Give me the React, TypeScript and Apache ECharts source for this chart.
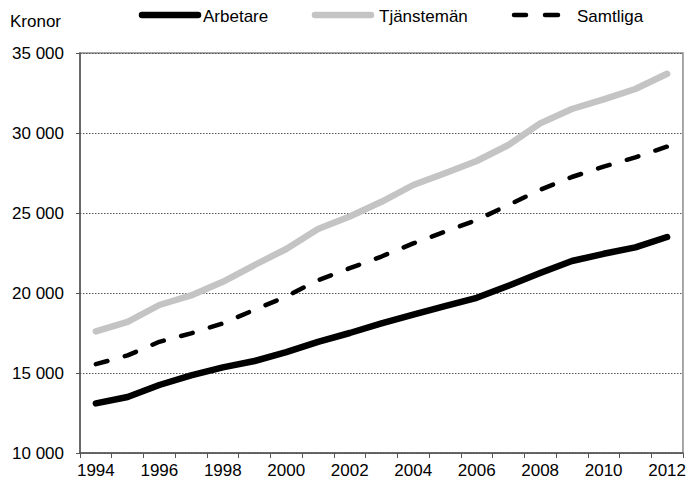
import React, { useEffect, useRef } from "react";
import * as echarts from "echarts";

const years = ["1994","1995","1996","1997","1998","1999","2000","2001","2002","2003","2004","2005","2006","2007","2008","2009","2010","2011","2012"];
const arbetare = [13100,13500,14250,14850,15350,15750,16300,16950,17500,18100,18650,19180,19700,20450,21250,22000,22450,22850,23500];
const tjansteman = [17600,18200,19250,19850,20700,21750,22750,24000,24780,25700,26750,27480,28250,29250,30600,31500,32100,32750,33700];
const samtliga = [15550,16100,16950,17480,18100,18950,19780,20800,21550,22280,23100,23830,24560,25500,26450,27250,27900,28480,29150];
const seriesNames = ["Arbetare", "Tjänstemän", "Samtliga"];
const yTitle = "Kronor";

const FONT = "Liberation Sans, Arial, sans-serif";
const FS = 17;

export default function App() {
  const ref = useRef<HTMLDivElement>(null);
  useEffect(() => {
    if (!ref.current) return;
    const chart = echarts.init(ref.current, undefined, { renderer: "svg" });
    const txt = (x: number, y: number, text: string) => ({
      type: "text", x, y,
      style: { text, fontSize: FS, fill: "#000", fontFamily: FONT, textVerticalAlign: "middle", textAlign: "left" },
    });
    chart.setOption({
      animation: false,
      backgroundColor: "#fff",
      textStyle: { fontFamily: FONT },
      graphic: [
        txt(10, 21, yTitle),
        { type: "line", shape: { x1: 142, y1: 15, x2: 198, y2: 15 }, style: { stroke: "#000", lineWidth: 6.5, lineCap: "round" } },
        txt(203, 16, seriesNames[0]),
        { type: "line", shape: { x1: 315, y1: 15, x2: 371, y2: 15 }, style: { stroke: "#c4c4c4", lineWidth: 6.5, lineCap: "round" } },
        txt(379, 16, seriesNames[1]),
        { type: "line", shape: { x1: 514, y1: 15, x2: 526, y2: 15 }, style: { stroke: "#000", lineWidth: 4.5, lineCap: "round" } },
        { type: "line", shape: { x1: 545, y1: 15, x2: 558, y2: 15 }, style: { stroke: "#000", lineWidth: 4.5, lineCap: "round" } },
        txt(577, 16, seriesNames[2]),
      ],
      grid: {
        left: 80, right: 6, top: 53, bottom: 30,
        show: true, borderColor: "#8a8a8a", borderWidth: 1.5,
      },
      xAxis: {
        type: "category",
        data: years,
        boundaryGap: true,
        axisLine: { lineStyle: { color: "#555", width: 1.5 } },
        axisTick: { show: true, length: 5, alignWithLabel: false, interval: 0, lineStyle: { color: "#555" } },
        axisLabel: { interval: 1, color: "#000", fontSize: FS, fontFamily: FONT, margin: 9 },
      },
      yAxis: {
        type: "value",
        min: 10000, max: 35000, interval: 5000,
        axisLine: { show: true, lineStyle: { color: "#555", width: 1.5 } },
        axisTick: { show: true, length: 4, lineStyle: { color: "#555" } },
        axisLabel: {
          color: "#000", fontSize: FS, fontFamily: FONT, margin: 16,
          formatter: (v: number) => String(v).replace(/\B(?=(\d{3})+(?!\d))/g, " "),
        },
        splitLine: { show: true, lineStyle: { color: "#555", type: [1.5, 1.5], width: 1 } },
      },
      series: [
        {
          name: seriesNames[0], type: "line", data: arbetare, symbol: "none",
          lineStyle: { color: "#000", width: 6.5, cap: "round", join: "round" }, z: 3,
        },
        {
          name: seriesNames[1], type: "line", data: tjansteman, symbol: "none",
          lineStyle: { color: "#c4c4c4", width: 6.5, cap: "round", join: "round" }, z: 2,
        },
        {
          name: seriesNames[2], type: "line", data: samtliga, symbol: "none",
          lineStyle: { color: "#000", width: 4.5, type: [12, 18], cap: "round" }, z: 4,
        },
      ],
    });
    return () => chart.dispose();
  }, []);
  return <div ref={ref} style={{ width: 689, height: 483, position: "absolute", left: 0, top: 0 }} />;
}
